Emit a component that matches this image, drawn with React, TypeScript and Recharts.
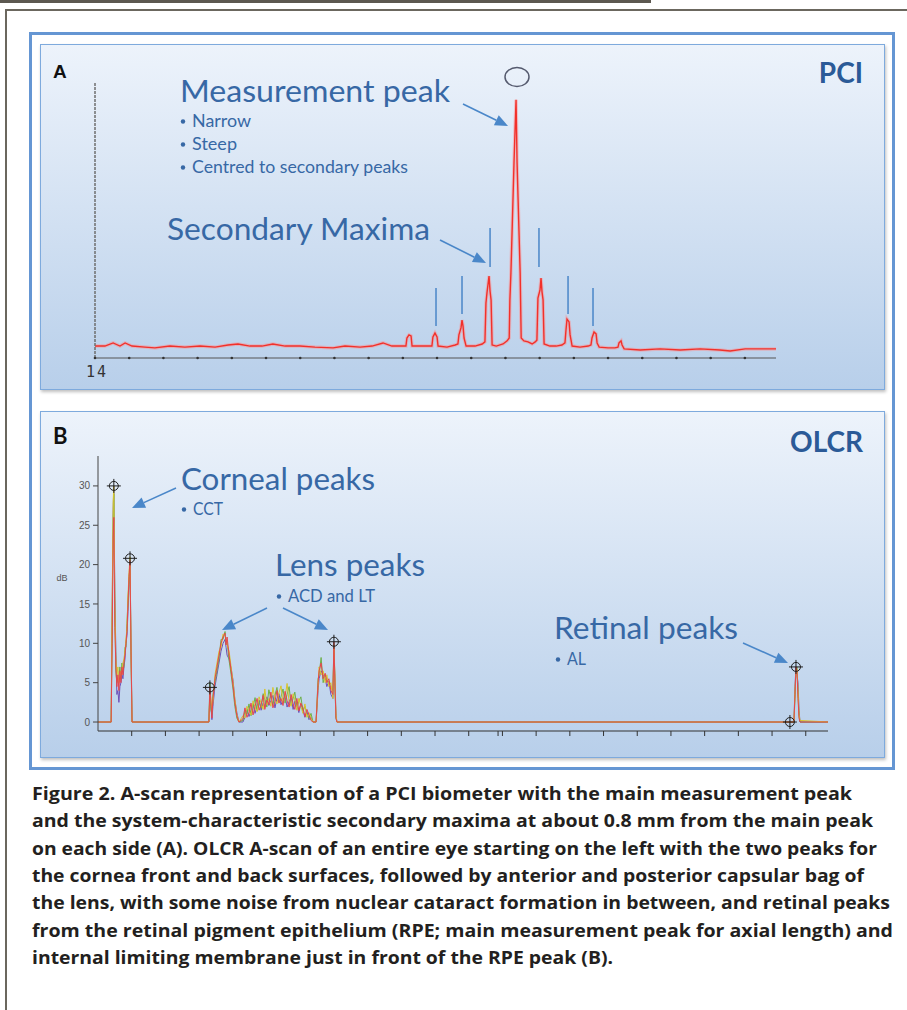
import React from 'react';
import { LineChart, Line, XAxis, YAxis, ReferenceLine, ComposedChart, Scatter } from 'recharts';

// ---- Panel A (PCI) : position in mm, amplitude in % of main peak
const pciMm = [
  0, 0.29, 0.53, 0.73, 0.88, 1.08, 1.46, 1.75, 2.19, 2.63, 3.07, 3.51, 3.89, 4.18, 4.53, 4.88, 5.2, 5.56, 5.99, 6.43,
  6.96, 7.31, 7.75, 8.1, 8.42, 8.68, 8.92, 9.09, 9.12, 9.18, 9.24, 9.27, 9.5, 9.74, 9.85, 9.88, 9.94, 10.0, 10.03,
  10.29, 10.53, 10.61, 10.64, 10.7, 10.73, 10.76, 10.79, 10.85, 11.11, 11.32, 11.4, 11.43, 11.46, 11.52, 11.55, 11.58,
  11.61, 11.73, 11.93, 12.05, 12.11, 12.13, 12.16, 12.22, 12.25, 12.31, 12.34, 12.37, 12.43, 12.46, 12.54, 12.66,
  12.78, 12.87, 12.92, 12.95, 13.01, 13.04, 13.07, 13.1, 13.13, 13.3, 13.48, 13.65, 13.74, 13.77, 13.8, 13.86, 13.89,
  13.95, 14.18, 14.42, 14.5, 14.53, 14.59, 14.65, 14.68, 14.74, 15.0, 15.2, 15.29, 15.32, 15.38, 15.41, 15.47, 15.94,
  16.52, 17.11, 17.69, 18.27, 18.57, 19.01, 19.44, 19.91,
];
const pciAmp = [
  4.6, 4.6, 5.8, 4.6, 5.8, 4.6, 4.2, 3.9, 4.6, 4.2, 4.6, 4.2, 5.0, 5.4, 4.6, 4.6, 5.4, 4.6, 4.6, 4.2,
  3.9, 4.6, 4.2, 4.6, 5.8, 4.6, 4.6, 4.6, 7.7, 8.9, 8.5, 4.6, 4.6, 4.6, 4.6, 8.1, 9.6, 8.1, 4.6,
  4.2, 5.0, 5.4, 8.9, 11.6, 14.6, 12.3, 7.7, 4.6, 4.6, 5.4, 6.2, 21.2, 25.1, 31.6, 25.8, 22.4,
  5.0, 4.6, 5.4, 6.6, 7.7, 22.4, 32.8, 60.9, 75.2, 99.5, 75.2, 60.9, 32.8, 7.7, 6.6, 6.2,
  5.4, 6.2, 6.9, 23.1, 26.2, 30.8, 25.4, 22.4, 5.4, 4.6, 4.6, 5.0, 5.8, 10.8, 15.0, 13.9, 8.9,
  4.6, 4.2, 4.6, 5.0, 7.7, 10.0, 9.3, 5.8, 4.2, 3.9, 3.9, 4.2, 5.8, 6.6, 5.0, 3.5, 3.1,
  3.5, 3.1, 3.5, 3.1, 2.7, 3.5, 3.5, 3.5,
];
const pciTicks = [0, 1, 2, 3, 4, 5, 6, 7, 8, 9, 10, 11, 12, 13, 14, 15, 16, 17, 18, 19];
const pciTickLabels = ['14'];
// vertical markers over the secondary maxima
const markMm = [9.97, 10.73, 11.55, 12.98, 13.83, 14.56];
const markLow = [12.3, 17.0, 35.1, 35.1, 17.0, 12.3];
const markHigh = [27.0, 31.6, 50.1, 50.1, 31.6, 27.0];

// ---- Panel B (OLCR) : position in mm, signal in dB, several overlaid scans
const olcrMm = [
  0, 0.39, 0.42, 0.45, 0.47, 0.5, 0.53, 0.56, 0.59, 0.62, 0.65, 0.68, 0.71, 0.74, 0.77, 0.8, 0.83, 0.86, 0.89, 0.92,
  0.95, 0.98, 1.01,
  3.29, 3.32, 3.35, 3.38, 3.41, 3.47, 3.53, 3.59, 3.65, 3.71, 3.77, 3.8, 3.83, 3.89, 3.95, 4.01, 4.06, 4.12, 4.18,
  4.3, 4.36, 4.42, 4.48, 4.54, 4.6, 4.66, 4.72, 4.78, 4.84, 4.9, 4.95, 5.01, 5.07, 5.13, 5.19, 5.25, 5.31, 5.37,
  5.43, 5.49, 5.55, 5.61, 5.67, 5.73, 5.79, 5.84, 5.9, 5.96, 6.02, 6.08, 6.14, 6.2, 6.26, 6.32, 6.38,
  6.47, 6.53, 6.56, 6.62, 6.68, 6.74, 6.79, 6.85, 6.91, 6.97, 7.0, 7.03, 7.06, 7.09,
  20.65, 20.68, 20.71, 20.74, 20.77, 20.8, 20.83, 21.66,
];
const olcrRed = [
  0, 0, 10, 23.5, 26, 12, 7, 4.5, 6, 4, 6.5, 5, 7, 6, 7.5, 8.5, 10, 11.5, 15, 18.5,
  20.5, 9, 0,
  0, 4.5, 2.5, 0.5, 3, 5.5, 7, 8.5, 10, 10.8, 11.3, 9.8, 10.8, 8.5, 6.5, 4.5, 2.5, 0.8, 0,
  0.4, 1.8, 0.6, 1.2, 2.4, 0.9, 2.0, 3.0, 1.5, 2.2, 3.4, 1.6, 2.8, 2.2, 3.8, 1.8, 2.6, 4.0, 2.4,
  3.0, 2.1, 3.9, 2.7, 1.9, 3.5, 2.3, 1.6, 3.0, 1.4, 2.4, 1.8, 0.7, 1.6, 0.9, 0.2, 0,
  0, 5.0, 6.5, 7.5, 5.5, 6.2, 5.0, 5.5, 4.0, 3.5, 10.2, 5.0, 0.5, 0,
  0, 3.5, 7.0, 6.5, 3, 0.5, 0, 0,
];
const olcrYellow = [
  0, 0, 15, 28, 30, 15, 8, 6, 7, 5, 5.5, 6.5, 6, 7.5, 8, 9, 10.5, 12, 16, 19,
  21, 10, 0,
  0, 4, 3, 1.5, 2.5, 6, 7.5, 9, 9.5, 11.2, 11, 10.5, 9.8, 9, 7, 5, 3, 1, 0,
  0.8, 0.5, 2.0, 1.4, 0.9, 2.7, 1.9, 1.3, 3.2, 2.4, 1.6, 4.2, 2.2, 3.0, 2.0, 4.4, 2.9, 2.3, 3.7,
  4.6, 2.4, 3.1, 4.9, 2.6, 2.0, 3.6, 2.8, 1.5, 3.0, 2.0, 1.1, 2.3, 0.6, 1.2, 0.5, 0,
  0, 4.5, 7.0, 6.0, 6.5, 5.0, 6.0, 4.5, 5.0, 3.0, 9.8, 6.0, 1.0, 0,
  0, 4, 6.8, 6.8, 4, 1, 0.2, 0,
];
const olcrGreen = [
  0, 0, 12, 25, 29, 14, 6.5, 5, 5.5, 6, 7, 5.5, 7.5, 6.5, 7, 9.5, 9.5, 12.5, 15.5, 18,
  20, 8, 0,
  0, 5, 1.5, 1, 3.5, 5, 6.5, 8, 10.5, 10.5, 11.5, 10, 10.2, 7.8, 6, 4, 2, 0.5, 0,
  0.2, 1.4, 1.0, 2.3, 0.8, 1.9, 3.1, 1.4, 2.6, 1.8, 3.6, 2.9, 1.9, 4.1, 3.0, 2.2, 3.4, 4.4, 2.5,
  3.2, 4.2, 2.4, 3.5, 4.5, 2.2, 3.0, 3.8, 1.9, 2.6, 3.2, 1.4, 2.0, 1.0, 0.5, 1.1, 0,
  0, 5.5, 6.0, 8.2, 5.0, 6.0, 5.5, 4.8, 4.5, 4.0, 10.0, 4.5, 0.5, 0,
  0, 3, 6.5, 7, 3.5, 0.8, 0, 0,
];
const olcrPurple = [
  0, 0, 14, 27, 30, 16, 9, 3.5, 4, 2.5, 4.5, 5, 6, 5.5, 7, 8, 10, 11, 14, 17.5,
  20.5, 10, 0,
  0, 3.5, 2, 0.3, 2, 4.5, 6, 7.5, 9, 10, 10.5, 9.5, 8.5, 8, 6.8, 5.2, 2.8, 1.2, 0,
  0, 0.6, 1.6, 0.7, 1.4, 2.3, 1.1, 2.0, 2.8, 1.5, 2.4, 1.9, 3.2, 2.1, 2.7, 3.4, 1.8, 3.0, 3.6,
  2.2, 2.8, 3.3, 1.9, 2.6, 3.1, 1.6, 2.7, 2.2, 1.2, 2.3, 1.5, 0.6, 1.3, 0.3, 0.6, 0,
  0, 4.0, 5.5, 6.5, 6.0, 5.5, 4.5, 5.2, 3.5, 3.0, 9.5, 5.5, 0.8, 0,
  0, 4.5, 7, 6, 5, 1.5, 0, 0,
];
const olcrYTicks = [0, 5, 10, 15, 20, 25, 30];
const olcrXTicks = [1, 2, 3, 4, 5, 6, 7, 8, 9, 10, 11, 11.87, 12, 13, 14, 15, 16, 17, 18, 19, 20, 21];
// detected surfaces (crosshairs)
const peakMm = [0.47, 0.95, 3.32, 7.0, 20.71, 20.53];
const peakDb = [30, 20.8, 4.4, 10.2, 7.0, 0];

const pciRows = pciMm.map((mm, i) => ({ mm, amp: pciAmp[i] }));
const olcrRows = olcrMm.map((mm, i) => ({
  mm, red: olcrRed[i], yellow: olcrYellow[i], green: olcrGreen[i], purple: olcrPurple[i],
}));
const peakRows = peakMm.map((mm, i) => ({ mm, db: peakDb[i] }));

const BLUE_TEXT = '#3768a5';
const ARROW = '#4a87c9';
const LABEL_FONT = 'Lato, "Open Sans", sans-serif';

const PciTick = (props: any) => {
  const { x, y, index } = props;
  const label = pciTickLabels[index] ?? '';
  return (
    <g>
      <circle cx={x} cy={y} r={1.3} fill="#333" />
      {label && (
        <text x={x + 2} y={y + 19} textAnchor="middle" fontFamily='"DejaVu Sans Mono", monospace' fontSize={15} fill="#333" letterSpacing={2}>
          {label}
        </text>
      )}
    </g>
  );
};

const Crosshair = (props: any) => {
  const { cx, cy } = props;
  return (
    <g stroke="#1f1f1f" strokeWidth={1} fill="none">
      <circle cx={cx} cy={cy} r={4.5} />
      <line x1={cx - 7} x2={cx + 7} y1={cy} y2={cy} />
      <line x1={cx} x2={cx} y1={cy - 7} y2={cy + 7} />
    </g>
  );
};

const Arrow = ({ x1, y1, x2, y2 }: { x1: number; y1: number; x2: number; y2: number }) => {
  const a = Math.atan2(y2 - y1, x2 - x1);
  const len = 13;
  const hw = 5.5;
  const bx = x2 - len * Math.cos(a);
  const by = y2 - len * Math.sin(a);
  const px = -Math.sin(a) * hw;
  const py = Math.cos(a) * hw;
  return (
    <g>
      <line x1={x1} y1={y1} x2={bx} y2={by} stroke={ARROW} strokeWidth={1.6} />
      <polygon points={`${x2},${y2} ${bx + px},${by + py} ${bx - px},${by - py}`} fill={ARROW} />
    </g>
  );
};

const captionLines = [
  'Figure 2.  A-scan representation of a PCI biometer with the main measurement peak',
  'and the system-characteristic secondary maxima at about 0.8 mm from the main peak',
  'on each side (A). OLCR A-scan of an entire eye starting on the left with the two peaks for',
  'the cornea front and back surfaces, followed by anterior and posterior capsular bag of',
  'the lens, with some noise from nuclear cataract formation in between, and retinal peaks',
  'from the retinal pigment epithelium (RPE; main measurement peak for axial length) and',
  'internal limiting membrane just in front of the RPE peak (B).',
];
const captionWidths = [820, 841, 845, 832, 858, 861, 581];

const panelStyle = (top: number, height: number): React.CSSProperties => ({
  position: 'absolute',
  left: 40,
  top,
  width: 843,
  height,
  border: '1px solid #7eaadd',
  background: 'linear-gradient(#edf3fb, #b8cfea)',
  boxShadow: '1px 2px 3px rgba(0,0,0,0.25)',
});

const Heading = ({ x, y, w, children }: { x: number; y: number; w: number; children: string }) => (
  <text x={x} y={y} fontSize={31} textLength={w} lengthAdjust="spacingAndGlyphs">{children}</text>
);

const Bullet = ({ x, y, w, children }: { x: number; y: number; w: number; children: string }) => (
  <g>
    <circle cx={x + 3} cy={y - 5.5} r={2.2} />
    <text x={x + 12} y={y} fontSize={17} textLength={w} lengthAdjust="spacingAndGlyphs">{children}</text>
  </g>
);

export default function App() {
  return (
    <div style={{ position: 'absolute', left: 0, top: 0, width: 907, height: 1010, background: '#fff', overflow: 'hidden' }}>
      <div style={{ position: 'absolute', left: 0, top: 0, width: 651, height: 3, background: '#5c5850' }} />
      <div style={{ position: 'absolute', left: 5, top: 9, width: 910, height: 1010, borderTop: '2px solid #6b675e', borderLeft: '2px solid #6b675e' }} />
      <div style={{ position: 'absolute', left: 29, top: 32, width: 860, height: 732, border: '3px solid #6596d3', background: '#fff' }} />
      <div style={panelStyle(44, 344)} />
      <div style={panelStyle(411, 345)} />

      <div style={{ position: 'absolute', left: 40, top: 44 }}>
        <LineChart width={845} height={346} data={pciRows} margin={{ top: 39, right: 109, bottom: 12, left: 53 }}>
          <XAxis dataKey="mm" type="number" domain={[0, 19.91]} ticks={pciTicks} height={20} tickSize={0} tickMargin={0}
            tickLine={false} axisLine={{ stroke: '#555', strokeWidth: 1 }} tick={<PciTick />} interval={0} allowDataOverflow />
          <YAxis type="number" domain={[0, 106]} width={2} tick={false} tickLine={false}
            axisLine={{ stroke: '#6f6f6f', strokeWidth: 1.5, strokeDasharray: '3 1' }} allowDataOverflow />
          {markMm.map((m, i) => (
            <ReferenceLine key={i} segment={[{ x: m, y: markLow[i] }, { x: m, y: markHigh[i] }]} stroke="#4a86c8" strokeWidth={1.5} />
          ))}
          <Line dataKey="amp" type="linear" stroke="#ff8a8a" strokeOpacity={0.45} strokeWidth={3.5} dot={false} isAnimationActive={false} />
          <Line dataKey="amp" type="linear" stroke="#f2302a" strokeWidth={1.4} dot={false} isAnimationActive={false} />
        </LineChart>
      </div>

      <div style={{ position: 'absolute', left: 40, top: 411 }}>
        <ComposedChart width={845} height={347} data={olcrRows} margin={{ top: 45, right: 57, bottom: 17, left: 28 }}>
          <XAxis dataKey="mm" type="number" domain={[0, 21.66]} ticks={olcrXTicks} height={10} tickSize={5}
            tickLine={{ stroke: '#333' }} axisLine={{ stroke: '#333' }} tick={<g />} interval={0} allowDataOverflow />
          <YAxis type="number" domain={[-1.14, 33.8]} ticks={olcrYTicks} width={30} tickSize={5} tickMargin={3}
            tickLine={{ stroke: '#444' }} axisLine={{ stroke: '#444' }} interval={0}
            tick={{ fontSize: 10, fill: '#555', fontFamily: '"Liberation Sans", Arial, sans-serif' }} allowDataOverflow />
          <Line dataKey="purple" type="linear" stroke="#6d4fb8" strokeWidth={1} dot={false} isAnimationActive={false} />
          <Line dataKey="green" type="linear" stroke="#6db04a" strokeWidth={1} dot={false} isAnimationActive={false} />
          <Line dataKey="yellow" type="linear" stroke="#d9c52c" strokeWidth={1} dot={false} isAnimationActive={false} />
          <Line dataKey="red" type="linear" stroke="#e4464e" strokeWidth={1} dot={false} isAnimationActive={false} />
          <Scatter data={peakRows} dataKey="db" shape={<Crosshair />} isAnimationActive={false} />
        </ComposedChart>
      </div>

      <svg width={907} height={1010} style={{ position: 'absolute', left: 0, top: 0, pointerEvents: 'none' }}>
        {/* Panel A labels */}
        <text x={53} y={78} fontFamily='"Liberation Sans", Arial, sans-serif' fontWeight="bold" fontSize={19} fill="#111">A</text>
        <text x={863} y={83} textAnchor="end" fontFamily={LABEL_FONT} fontWeight="bold" fontSize={28} fill="#2b5a97">PCI</text>
        <ellipse cx={517} cy={77} rx={12} ry={9.5} fill="none" stroke="#555a6e" strokeWidth={1.5} />
        <g fontFamily={LABEL_FONT} fill={BLUE_TEXT}>
          <Heading x={180} y={102} w={270}>Measurement peak</Heading>
          <Bullet x={180} y={127} w={59}>Narrow</Bullet>
          <Bullet x={180} y={150} w={45}>Steep</Bullet>
          <Bullet x={180} y={173} w={216}>Centred to secondary peaks</Bullet>
          <Heading x={167} y={240} w={263}>Secondary Maxima</Heading>
        </g>
        <Arrow x1={463} y1={104} x2={508} y2={126} />
        <Arrow x1={440} y1={240} x2={486} y2={263} />

        {/* Panel B labels */}
        <text x={53} y={444} fontFamily={LABEL_FONT} fontWeight="bold" fontSize={22} fill="#111">B</text>
        <text x={863} y={452} textAnchor="end" fontFamily={LABEL_FONT} fontWeight="bold" fontSize={28} fill="#2b5a97">OLCR</text>
        <text x={62} y={581} textAnchor="middle" fontFamily='"Liberation Sans", Arial, sans-serif' fontSize={9} fill="#555">dB</text>
        <g fontFamily={LABEL_FONT} fill={BLUE_TEXT}>
          <Heading x={181} y={490} w={194}>Corneal peaks</Heading>
          <Bullet x={181} y={515} w={30}>CCT</Bullet>
          <Heading x={275} y={576} w={150}>Lens peaks</Heading>
          <Bullet x={276} y={602} w={87}>ACD and LT</Bullet>
          <Heading x={554} y={639} w={184}>Retinal peaks</Heading>
          <Bullet x={555} y={665} w={19}>AL</Bullet>
        </g>
        <Arrow x1={176} y1={488} x2={132} y2={508} />
        <Arrow x1={267} y1={608} x2={222} y2={630} />
        <Arrow x1={283} y1={608} x2={328} y2={630} />
        <Arrow x1={743} y1={643} x2={788} y2={663} />

        {/* Caption */}
        <g fontFamily='"Open Sans", "Liberation Sans", sans-serif' fontWeight="bold" fontSize={17} fill="#231f20">
          {captionLines.map((line, i) => (
            <text key={i} x={32} y={800 + i * 27.3} textLength={captionWidths[i]} lengthAdjust="spacingAndGlyphs">
              {line}
            </text>
          ))}
        </g>
      </svg>
    </div>
  );
}
